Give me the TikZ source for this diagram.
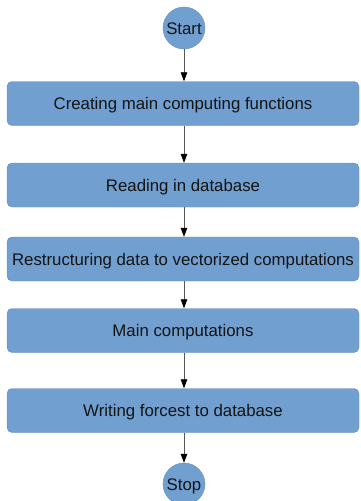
\documentclass[tikz,border=0pt]{standalone}
\usepackage{fontspec}
\setmainfont{Liberation Sans}
\usetikzlibrary{arrows.meta}
\definecolor{boxfill}{RGB}{112,159,208}
\definecolor{boxedge}{RGB}{96,140,190}
\definecolor{linkgray}{RGB}{85,85,85}
\definecolor{labeltext}{RGB}{20,20,20}
\tikzset{
  stepbox/.style={draw=boxedge, line width=0.4pt, fill=boxfill, rounded corners=5pt,
    minimum width=352pt, minimum height=44pt, inner sep=0pt,
    text height=12pt, text depth=0pt,
    font=\fontsize{16.8pt}{18pt}\selectfont, text=labeltext},
  terminal/.style={circle, draw=boxedge, line width=0.4pt, fill=boxfill,
    minimum size=42pt, inner sep=0pt,
    text height=12pt, text depth=0pt,
    font=\fontsize{16.8pt}{18pt}\selectfont, text=labeltext},
  link/.style={draw=linkgray, line width=0.8pt,
    -{Triangle[length=9pt,width=6.5pt,fill=black,color=black]}}
}
\begin{document}
\begin{tikzpicture}[x=1pt,y=-1pt]
  \useasboundingbox (0,0) rectangle (361,501);
  \node[terminal] (start) at (184,28) {Start};
  \node[stepbox] (b1) at (183,103.5) {Creating main computing functions};
  \node[stepbox] (b2) at (183,185) {Reading in database};
  \node[stepbox] (b3) at (183,259) {Restructuring data to vectorized computations};
  \node[stepbox] (b4) at (183,330.5) {Main computations};
  \node[stepbox] (b5) at (183,410.5) {Writing forcest to database};
  \node[terminal] (stop) at (184,484) {Stop};
  \draw[link] (start.south) -- (start.south |- b1.north);
  \draw[link] (start.south |- b1.south) -- (start.south |- b2.north);
  \draw[link] (start.south |- b2.south) -- (start.south |- b3.north);
  \draw[link] (start.south |- b3.south) -- (start.south |- b4.north);
  \draw[link] (start.south |- b4.south) -- (start.south |- b5.north);
  \draw[link] (start.south |- b5.south) -- (stop.north);
\end{tikzpicture}
\end{document}
